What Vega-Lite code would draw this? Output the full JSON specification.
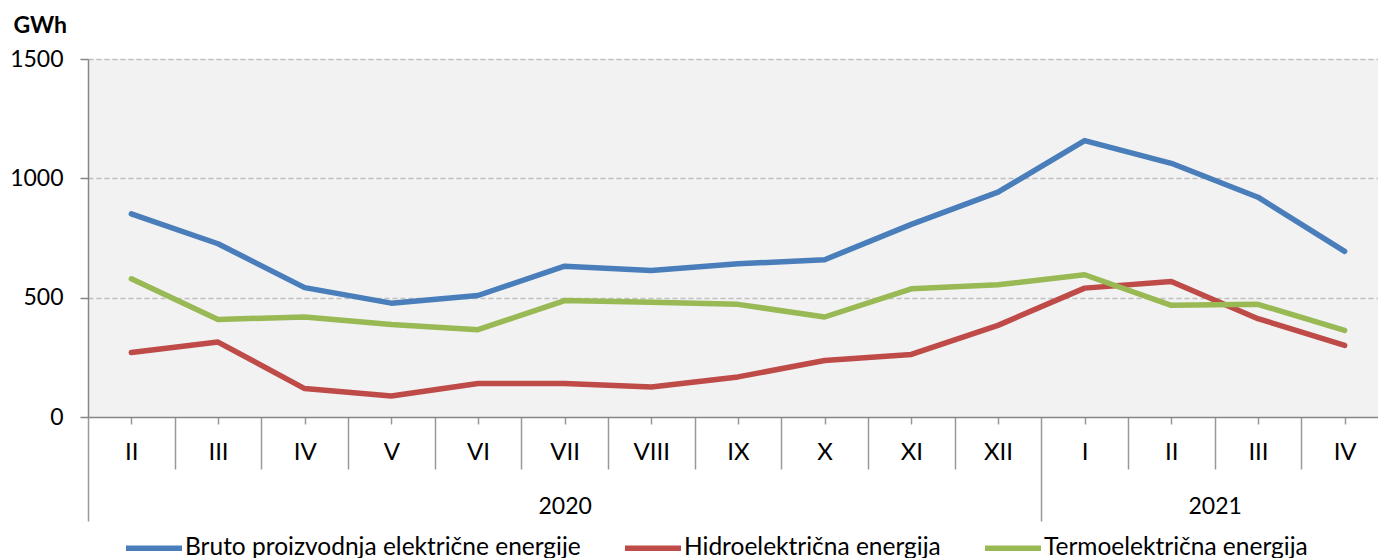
{
  "$schema": "https://vega.github.io/schema/vega-lite/v6.json",
  "width": 1290,
  "height": 358,
  "autosize": {"type": "none"},
  "padding": {"left": 88, "top": 59, "right": 0, "bottom": 141},
  "background": "white",
  "config": {
    "view": {"fill": "#f2f2f2", "stroke": null},
    "font": "Lato",
    "axis": {"labelFont": "Lato", "labelColor": "#000000", "labelFontSize": 23},
    "legend": {"labelFont": "Lato"}
  },
  "data": {
    "values": [
      {"i": 0, "mesec": "II", "serija": "Bruto proizvodnja električne energije", "gwh": 851},
      {"i": 1, "mesec": "III", "serija": "Bruto proizvodnja električne energije", "gwh": 726},
      {"i": 2, "mesec": "IV", "serija": "Bruto proizvodnja električne energije", "gwh": 542},
      {"i": 3, "mesec": "V", "serija": "Bruto proizvodnja električne energije", "gwh": 477},
      {"i": 4, "mesec": "VI", "serija": "Bruto proizvodnja električne energije", "gwh": 509},
      {"i": 5, "mesec": "VII", "serija": "Bruto proizvodnja električne energije", "gwh": 632},
      {"i": 6, "mesec": "VIII", "serija": "Bruto proizvodnja električne energije", "gwh": 614},
      {"i": 7, "mesec": "IX", "serija": "Bruto proizvodnja električne energije", "gwh": 642},
      {"i": 8, "mesec": "X", "serija": "Bruto proizvodnja električne energije", "gwh": 659},
      {"i": 9, "mesec": "XI", "serija": "Bruto proizvodnja električne energije", "gwh": 807},
      {"i": 10, "mesec": "XII", "serija": "Bruto proizvodnja električne energije", "gwh": 942},
      {"i": 11, "mesec": "I", "serija": "Bruto proizvodnja električne energije", "gwh": 1158},
      {"i": 12, "mesec": "II", "serija": "Bruto proizvodnja električne energije", "gwh": 1063},
      {"i": 13, "mesec": "III", "serija": "Bruto proizvodnja električne energije", "gwh": 921},
      {"i": 14, "mesec": "IV", "serija": "Bruto proizvodnja električne energije", "gwh": 694},
      {"i": 0, "mesec": "II", "serija": "Hidroelektrična energija", "gwh": 270},
      {"i": 1, "mesec": "III", "serija": "Hidroelektrična energija", "gwh": 314},
      {"i": 2, "mesec": "IV", "serija": "Hidroelektrična energija", "gwh": 119},
      {"i": 3, "mesec": "V", "serija": "Hidroelektrična energija", "gwh": 88},
      {"i": 4, "mesec": "VI", "serija": "Hidroelektrična energija", "gwh": 140},
      {"i": 5, "mesec": "VII", "serija": "Hidroelektrična energija", "gwh": 140},
      {"i": 6, "mesec": "VIII", "serija": "Hidroelektrična energija", "gwh": 126},
      {"i": 7, "mesec": "IX", "serija": "Hidroelektrična energija", "gwh": 168},
      {"i": 8, "mesec": "X", "serija": "Hidroelektrična energija", "gwh": 237},
      {"i": 9, "mesec": "XI", "serija": "Hidroelektrična energija", "gwh": 262},
      {"i": 10, "mesec": "XII", "serija": "Hidroelektrična energija", "gwh": 384},
      {"i": 11, "mesec": "I", "serija": "Hidroelektrična energija", "gwh": 540},
      {"i": 12, "mesec": "II", "serija": "Hidroelektrična energija", "gwh": 568},
      {"i": 13, "mesec": "III", "serija": "Hidroelektrična energija", "gwh": 412},
      {"i": 14, "mesec": "IV", "serija": "Hidroelektrična energija", "gwh": 300},
      {"i": 0, "mesec": "II", "serija": "Termoelektrična energija", "gwh": 579},
      {"i": 1, "mesec": "III", "serija": "Termoelektrična energija", "gwh": 409},
      {"i": 2, "mesec": "IV", "serija": "Termoelektrična energija", "gwh": 419},
      {"i": 3, "mesec": "V", "serija": "Termoelektrična energija", "gwh": 388},
      {"i": 4, "mesec": "VI", "serija": "Termoelektrična energija", "gwh": 366},
      {"i": 5, "mesec": "VII", "serija": "Termoelektrična energija", "gwh": 488},
      {"i": 6, "mesec": "VIII", "serija": "Termoelektrična energija", "gwh": 481},
      {"i": 7, "mesec": "IX", "serija": "Termoelektrična energija", "gwh": 472},
      {"i": 8, "mesec": "X", "serija": "Termoelektrična energija", "gwh": 419},
      {"i": 9, "mesec": "XI", "serija": "Termoelektrična energija", "gwh": 537},
      {"i": 10, "mesec": "XII", "serija": "Termoelektrična energija", "gwh": 554},
      {"i": 11, "mesec": "I", "serija": "Termoelektrična energija", "gwh": 596},
      {"i": 12, "mesec": "II", "serija": "Termoelektrična energija", "gwh": 468},
      {"i": 13, "mesec": "III", "serija": "Termoelektrična energija", "gwh": 472},
      {"i": 14, "mesec": "IV", "serija": "Termoelektrična energija", "gwh": 363}
    ]
  },
  "resolve": {"axis": {"x": "independent"}},
  "layer": [
    {
      "mark": {"type": "rule", "strokeOpacity": 0},
      "encoding": {
        "x": {
          "field": "i", "type": "quantitative",
          "scale": {"domain": [-0.5, 14.385], "nice": false, "zero": false},
          "axis": {
            "orient": "bottom",
            "values": [-0.5, 0.5, 1.5, 2.5, 3.5, 4.5, 5.5, 6.5, 7.5, 8.5, 9.5, 10.5, 11.5, 12.5, 13.5],
            "labels": false, "domain": false, "grid": false, "title": null,
            "tickColor": "#999999", "tickWidth": 1.5,
            "tickSize": {"condition": {"test": "datum.value === -0.5 || datum.value === 10.5", "value": 104}, "value": 52}
          }
        }
      }
    },
    {
      "mark": {"type": "rule", "strokeOpacity": 0},
      "encoding": {
        "x": {
          "field": "i", "type": "quantitative",
          "scale": {"domain": [-0.5, 14.385], "nice": false, "zero": false},
          "axis": {
            "orient": "bottom",
            "values": [5, 12.5],
            "ticks": false, "domain": false, "grid": false, "title": null,
            "labelExpr": "datum.value < 10 ? '2020' : '2021'",
            "labelBaseline": "middle", "labelPadding": 89, "labelFontSize": 23
          }
        }
      }
    },
    {
      "mark": {"type": "line", "strokeWidth": 5.5, "strokeCap": "round", "strokeJoin": "round"},
      "encoding": {
        "x": {
          "field": "i", "type": "quantitative",
          "scale": {"domain": [-0.5, 14.385], "nice": false, "zero": false},
          "axis": {
            "orient": "bottom",
            "values": [0, 1, 2, 3, 4, 5, 6, 7, 8, 9, 10, 11, 12, 13, 14],
            "labelExpr": "['II','III','IV','V','VI','VII','VIII','IX','X','XI','XII','I','II','III','IV'][datum.value]",
            "grid": false, "title": null,
            "domainColor": "#868686", "domainWidth": 1.5,
            "tickColor": "#999999", "tickWidth": 1.5, "tickSize": 7,
            "labelBaseline": "middle", "labelPadding": 28, "labelFontSize": 24,
            "labelFlush": false, "labelOverlap": false
          }
        },
        "y": {
          "field": "gwh", "type": "quantitative",
          "scale": {"domain": [0, 1500], "nice": false},
          "axis": {
            "values": [0, 500, 1000, 1500], "format": "d",
            "grid": true, "gridColor": "#bfbfbf", "gridDash": [5, 3], "gridWidth": 1.5,
            "gridOpacity": {"condition": {"test": "datum.value === 0", "value": 0}, "value": 1},
            "domainColor": "#868686", "domainWidth": 1.5,
            "tickColor": "#868686", "tickWidth": 1.5, "tickSize": 8,
            "labelFontSize": 23, "labelPadding": 17,
            "title": "GWh", "titleAngle": 0, "titleX": -75, "titleY": -27,
            "titleAlign": "left", "titleBaseline": "alphabetic",
            "titleFont": "Lato", "titleFontSize": 23, "titleFontWeight": "bold", "titleColor": "#000000"
          }
        },
        "color": {
          "field": "serija", "type": "nominal",
          "scale": {
            "domain": ["Bruto proizvodnja električne energije", "Hidroelektrična energija", "Termoelektrična energija"],
            "range": ["#4a7ebb", "#be4b48", "#98b954"]
          },
          "legend": {
            "orient": "none", "legendX": 35, "legendY": 458,
            "direction": "horizontal", "title": null, "padding": 0,
            "symbolType": "stroke", "symbolSize": 3136, "symbolStrokeWidth": 5.5,
            "labelFontSize": 24.5, "labelColor": "#000000", "labelOffset": 0,
            "columnPadding": 33, "labelLimit": 0
          }
        }
      }
    }
  ]
}
